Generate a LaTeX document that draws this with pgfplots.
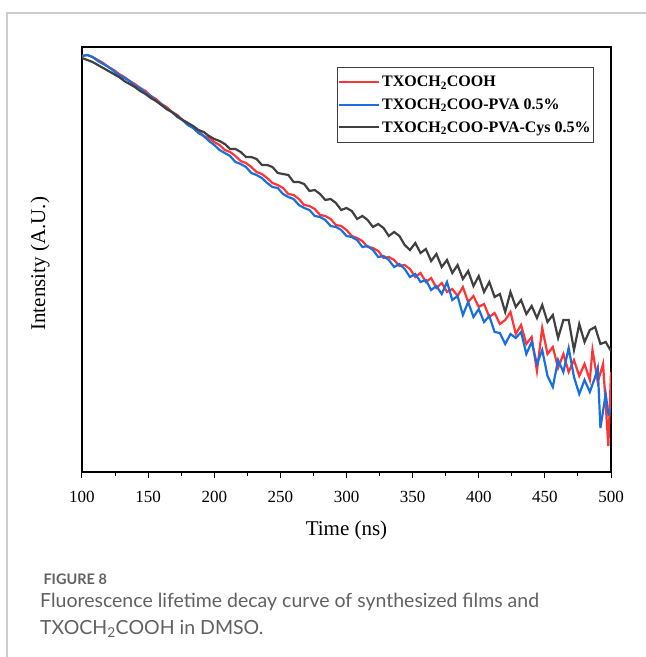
\documentclass[border=0pt]{standalone}
\usepackage{pgfplots}
\pgfplotsset{compat=1.18}
\usepackage{fontspec}
\setmainfont{Liberation Serif}
\newfontfamily\capfont{Lato}
\definecolor{cred}{HTML}{FF3535}
\definecolor{cblue}{HTML}{1A6FE0}
\definecolor{cblack}{HTML}{404040}
\begin{document}
\begin{tikzpicture}
\path[use as bounding box] (0,0) rectangle (646pt,657pt);
\draw[line width=1.4pt, color=black!20] (7pt,0) -- (7pt,644pt) -- (646pt,644pt);
\begin{axis}[
  at={(82pt,185pt)}, anchor=south west,
  width=529pt, height=425pt, scale only axis,
  xmin=100, xmax=500, ymin=0, ymax=425,
  xtick={100,150,...,500}, minor x tick num=1,
  ytick=\empty,
  tick pos=left, tick align=outside,
  major tick length=6pt, minor tick length=4pt,
  every tick/.style={black, line width=1pt},
  axis line style={line width=1.3pt},
  /pgf/number format/assume math mode=true,
  xticklabel style={font=\fontsize{17}{17}\selectfont, yshift=-10pt},
  xlabel={Time (ns)}, ylabel={Intensity (A.U.)},
  xlabel style={font=\fontsize{21}{21}\selectfont, at={(axis description cs:0.5,-0.138)}, anchor=center},
  ylabel style={font=\fontsize{21}{21}\selectfont, at={(axis description cs:-0.0794,0.49)}, anchor=center},
  legend style={at={(axis description cs:0.482,0.953)}, anchor=north west,
    draw=black!75, font=\bfseries\fontsize{16}{16}\selectfont,
    inner xsep=1pt, inner ysep=7pt, row sep=6.5pt,
    /tikz/every even column/.append style={column sep=1pt}},
  legend cell align=left,
  legend image code/.code={\draw[#1, line width=2pt] (0pt,0pt) -- (40pt,0pt);},
]
\addplot[cred, line width=2.2pt] coordinates {
(100,416)(104,417)(108,415)(112,412)(116,409)(120,405)(124,402)(128,398)(132,395)(136,391)
(140,388)(144,384)(148,381)(152,376)(156,373)(160,368)(164,365)(168,360)(172,357)(176,352)
(180,349)(184,344)(188,341)(192,336)(196,334)(200,330)(204,327)(208,322)(212,320)(216,316)
(220,311)(224,309)(228,305)(232,300)(236,298)(240,294)(244,289)(248,287)(252,284)(256,278)
(260,277)(264,273)(268,267)(272,266)(276,263)(280,257)(284,256)(288,253)(292,247)(296,246)
(300,242)(304,236)(308,234)(312,231)(316,225)(320,224)(324,221)(328,214)(332,215)(336,212)
(340,206)(344,207)(348,203)(352,195)(356,199)(360,190)(364,194)(368,184)(372,189)(376,180)
(380,183)(384,176)(388,185)(392,170)(396,176)(400,165)(404,168)(408,155)(412,159)(416,148)
(420,152)(424,160)(428,138)(432,147)(436,128)(440,135)(444,101)(448,144)(452,118)(456,125)
(460,104)(464,118)(468,100)(472,112)(476,96)(480,108)(484,92)(486,122)(490,90)(494,108)
(498,26)(500,100)
};
\addlegendentry{TXOCH\textsubscript{2}COOH}
\addplot[cblue, line width=2.2pt] coordinates {
(100,416)(104,417)(108,415)(112,411)(116,408)(120,405)(124,401)(128,397)(132,394)(136,391)
(140,386)(144,384)(148,379)(152,376)(156,371)(160,368)(164,363)(168,360)(172,355)(176,352)
(180,347)(184,344)(188,339)(192,336)(196,331)(200,327)(204,322)(208,319)(212,316)(216,310)
(220,308)(224,305)(228,299)(232,297)(236,294)(240,289)(244,285)(248,284)(252,278)(256,275)
(260,273)(264,267)(268,264)(272,262)(276,256)(280,255)(284,252)(288,246)(292,245)(296,242)
(300,236)(304,235)(308,232)(312,225)(316,226)(320,222)(324,215)(328,216)(332,212)(336,205)
(340,208)(344,203)(348,195)(352,198)(356,190)(360,192)(364,182)(368,186)(372,178)(376,190)
(380,172)(384,176)(388,157)(392,170)(396,155)(400,163)(404,150)(408,156)(412,140)(416,139)
(420,128)(424,138)(428,134)(432,140)(436,118)(440,130)(444,108)(448,122)(452,96)(456,85)
(460,112)(464,100)(468,124)(472,95)(476,78)(480,92)(484,80)(488,95)(490,104)(492,44)
(496,78)(498,58)(500,63)
};
\addlegendentry{TXOCH\textsubscript{2}COO-PVA 0.5\%}
\addplot[cblack, line width=2.2pt] coordinates {
(100,414)(104,412)(108,410)(112,407)(116,404)(120,401)(124,398)(128,395)(132,391)(136,388)
(140,385)(144,381)(148,378)(152,374)(156,371)(160,367)(164,363)(168,360)(172,356)(176,352)
(180,349)(184,346)(188,342)(192,340)(196,336)(200,333)(204,331)(208,328)(212,323)(216,323)
(220,320)(224,315)(228,315)(232,313)(236,307)(240,307)(244,305)(248,299)(252,298)(256,297)
(260,290)(264,290)(268,288)(272,281)(276,282)(280,278)(284,272)(288,273)(292,269)(296,262)
(300,264)(304,261)(308,253)(312,256)(316,252)(320,245)(324,248)(328,244)(332,236)(336,240)
(340,236)(344,227)(348,222)(352,229)(356,219)(360,223)(364,211)(368,218)(372,205)(376,212)
(380,199)(384,207)(388,193)(392,201)(396,186)(400,196)(404,180)(408,190)(412,175)(416,178)
(420,160)(424,180)(428,165)(432,172)(436,158)(440,166)(444,154)(448,167)(452,150)(456,157)
(460,134)(464,152)(468,152)(472,122)(476,148)(480,130)(484,142)(488,145)(492,128)(496,130)
(500,121)
};
\addlegendentry{TXOCH\textsubscript{2}COO-PVA-Cys 0.5\%}
\end{axis}
\node[anchor=base west, text=black!62, font=\capfont\bfseries\fontsize{14.5}{16}\selectfont] at (40pt,72pt) {FIGURE 8};
\node[anchor=base west, text=black!62, font=\capfont\fontsize{19.5}{22}\selectfont, inner sep=0pt] at (40pt,49pt) {Fluorescence lifetime decay curve of synthesized films and};
\node[anchor=base west, text=black!62, font=\capfont\fontsize{19.5}{22}\selectfont, inner sep=0pt] at (40pt,23pt) {TXOCH\textsubscript{2}COOH in DMSO.};
\end{tikzpicture}
\end{document}
